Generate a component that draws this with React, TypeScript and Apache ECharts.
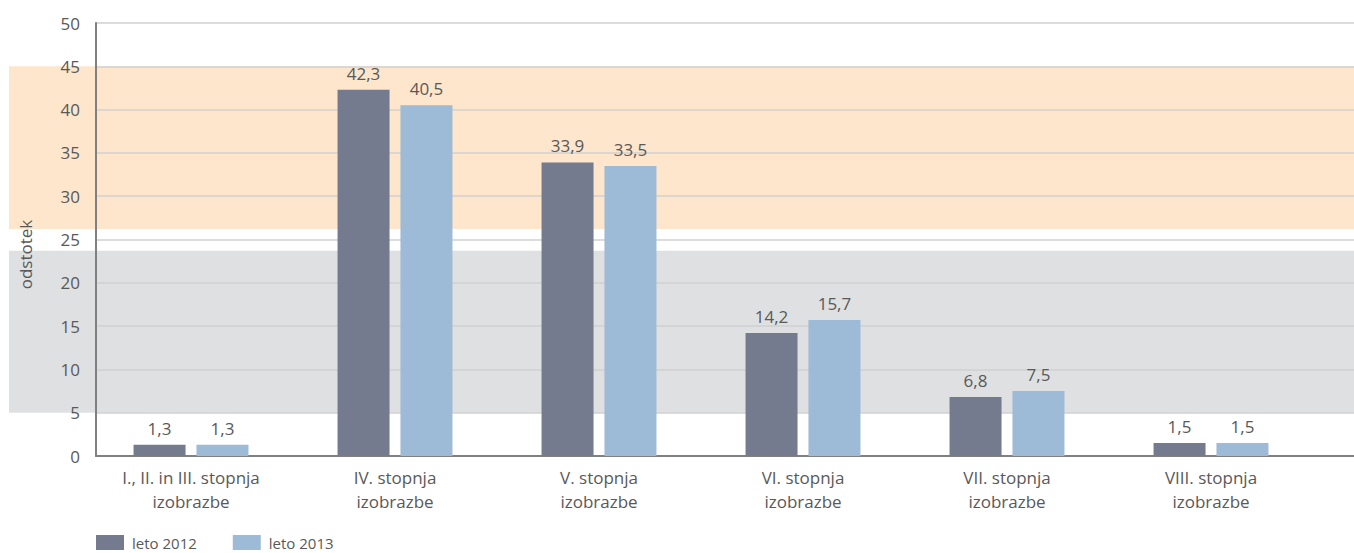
import React, { useEffect, useRef } from "react";
import * as echarts from "echarts";

const categories = [
  "I., II. in III. stopnja\nizobrazbe",
  "IV. stopnja\nizobrazbe",
  "V. stopnja\nizobrazbe",
  "VI. stopnja\nizobrazbe",
  "VII. stopnja\nizobrazbe",
  "VIII. stopnja\nizobrazbe",
];
const values2012 = [1.3, 42.3, 33.9, 14.2, 6.8, 1.5];
const values2013 = [1.3, 40.5, 33.5, 15.7, 7.5, 1.5];
const seriesNames = ["leto 2012", "leto 2013"];
const yTicks = { min: 0, max: 50, interval: 5 };
const orangeBand = [45, 26.2];
const grayBand = [23.7, 5];

const FONT = "'Open Sans', 'Noto Sans', sans-serif";
const TEXT = "#595959";

export default function App() {
  const ref = useRef<HTMLDivElement>(null);
  useEffect(() => {
    if (!ref.current) return;
    const chart = echarts.init(ref.current, null, { renderer: "svg" });
    const fmt = (p: any) => String(p.value).replace(".", ",");
    chart.setOption({
      animation: false,
      textStyle: { fontFamily: FONT },
      legend: {
        left: 96,
        top: 535,
        padding: 0,
        itemWidth: 28,
        itemHeight: 15,
        itemGap: 36,
        icon: "rect",
        textStyle: { color: TEXT, fontSize: 15, lineHeight: 15, fontFamily: FONT, padding: [0, 0, 0, 3] },
        data: seriesNames,
      },
      grid: [
        { left: 96, right: 0, top: 23, bottom: 97, containLabel: false },
        { left: 89, width: 1224, top: 23, bottom: 97, containLabel: false },
      ],
      xAxis: [
        {
          type: "category",
          gridIndex: 0,
          data: categories,
          axisLine: { show: true, lineStyle: { color: "#808080", width: 2 } },
          axisTick: { show: false },
          axisLabel: { show: false },
        },
        {
          type: "category",
          gridIndex: 1,
          data: categories,
          axisLine: { show: false },
          axisTick: { show: false },
          axisLabel: {
            color: TEXT,
            fontSize: 17,
            lineHeight: 24,
            margin: 9,
            interval: 0,
            fontFamily: FONT,
          },
        },
      ],
      yAxis: [
        {
          type: "value",
          gridIndex: 0,
          min: yTicks.min,
          max: yTicks.max,
          interval: yTicks.interval,
          name: "odstotek",
          nameLocation: "middle",
          nameGap: 62,
          nameTextStyle: { color: TEXT, fontSize: 17, fontFamily: FONT, padding: [0, 30, 0, 0] },
          axisLine: { show: true, lineStyle: { color: "#808080", width: 2 } },
          axisTick: { show: false },
          axisLabel: { color: TEXT, fontSize: 17, margin: 16, fontFamily: FONT },
          splitLine: { show: true, lineStyle: { color: "#d0d0d0", width: 1.5 } },
        },
        {
          type: "value",
          gridIndex: 1,
          min: yTicks.min,
          max: yTicks.max,
          interval: yTicks.interval,
          show: false,
          splitLine: { show: false },
        },
      ],
      series: [
        {
          name: seriesNames[0],
          type: "bar",
          xAxisIndex: 1,
          yAxisIndex: 1,
          data: values2012,
          barWidth: 52,
          barGap: "21%",
          itemStyle: { color: "#747b8e" },
          z: 5,
          label: {
            show: true,
            position: "top",
            distance: 8,
            color: TEXT,
            fontSize: 17,
            fontFamily: FONT,
            formatter: fmt,
          },
        },
        {
          name: seriesNames[1],
          type: "bar",
          xAxisIndex: 1,
          yAxisIndex: 1,
          data: values2013,
          barWidth: 52,
          barGap: "21%",
          itemStyle: { color: "#9dbad6" },
          z: 5,
          label: {
            show: true,
            position: "top",
            distance: 8,
            color: TEXT,
            fontSize: 17,
            fontFamily: FONT,
            formatter: fmt,
          },
        },
      ],
    });

    const y = (v: number) => chart.convertToPixel({ yAxisIndex: 0 }, v) as number;
    const w = ref.current.clientWidth;
    const band = (b: number[], color: string) => {
      const y1 = y(b[0]);
      const y2 = y(b[1]);
      return {
        type: "rect",
        z: -10,
        silent: true,
        shape: { x: 9, y: y1, width: w - 9, height: y2 - y1 },
        style: { fill: color },
      };
    };
    chart.setOption({
      graphic: [band(orangeBand, "#fde6cc"), band(grayBand, "#dfe0e2")],
    });

    return () => chart.dispose();
  }, []);
  return (
    <div
      ref={ref}
      style={{ position: "fixed", left: 0, top: 0, width: 1354, height: 553, background: "#fff" }}
    />
  );
}
